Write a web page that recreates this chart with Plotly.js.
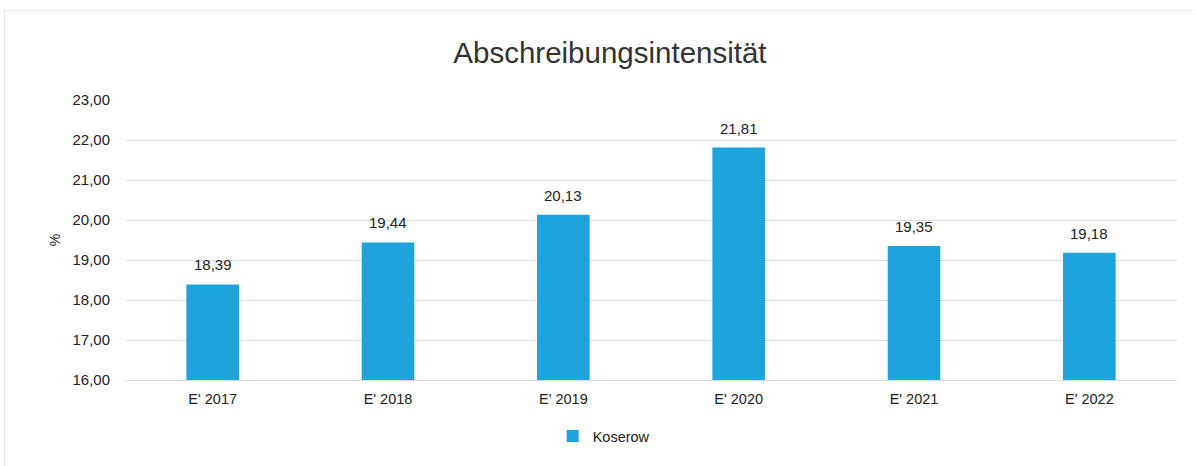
<!DOCTYPE html>
<html>
<head>
<meta charset="utf-8">
<script src="https://cdn.plot.ly/plotly-3.0.1.min.js"></script>
<style>
html,body{margin:0;padding:0;background:#fff;}
#frame{position:absolute;left:4px;top:10px;width:1190px;height:460px;border-left:1px solid #e6e6e6;border-top:1px solid #e6e6e6;box-sizing:border-box;pointer-events:none;}
#chart{width:1196px;height:466px;}
</style>
</head>
<body>
<div id="chart"></div>
<div id="frame"></div>
<script>
const categories = ["E' 2017", "E' 2018", "E' 2019", "E' 2020", "E' 2021", "E' 2022"];
const values = [18.39, 19.44, 20.13, 21.81, 19.35, 19.18];
const seriesName = "Koserow";
const titleText = "Abschreibungsintensität";
const yTitle = "%";

const fmt = v => v.toFixed(2).replace('.', ',');
const FONT = 'Liberation Sans, Arial, sans-serif';

const trace = {
  type: 'bar',
  x: categories,
  y: values,
  name: seriesName,
  marker: {color: '#1fa3dc'},
  hoverinfo: 'x+y'
};

const annotations = categories.map((c, i) => ({
  x: c, y: values[i], xref: 'x', yref: 'y',
  text: fmt(values[i]), showarrow: false,
  yanchor: 'bottom', yshift: 9,
  font: {family: FONT, size: 15, color: '#222'}
}));

const layout = {
  width: 1196, height: 466,
  margin: {l: 125, r: 19, t: 100, b: 86},
  paper_bgcolor: '#fff', plot_bgcolor: '#fff',
  separators: ',.',
  title: {text: titleText, x: 0.51, xanchor: 'center', y: 0.888, yanchor: 'middle',
          font: {family: FONT, size: 29.5, color: '#333'}},
  xaxis: {
    type: 'category', showgrid: false, zeroline: false,
    showline: true, linecolor: '#d9d9d9', linewidth: 1,
    ticks: '', tickfont: {family: FONT, size: 14.5, color: '#222'},
    ticklabelstandoff: 6
  },
  yaxis: {
    range: [16, 23], dtick: 1, tickformat: '.2f',
    showgrid: true, gridcolor: '#dcdcdc', gridwidth: 1, zeroline: false,
    showline: false, ticks: '',
    tickfont: {family: FONT, size: 15, color: '#222'},
    ticklabelstandoff: 14,
    title: {text: yTitle, standoff: 8, font: {family: FONT, size: 14, color: '#222'}}
  },
  bargap: 0.7,
  showlegend: true,
  legend: {orientation: 'h', x: 0.455, xanchor: 'center', y: -0.2, yanchor: 'middle',
           font: {family: FONT, size: 14.5, color: '#222'}},
  annotations: annotations
};

Plotly.newPlot('chart', [trace], layout, {displayModeBar: false, staticPlot: true});
</script>
</body>
</html>
